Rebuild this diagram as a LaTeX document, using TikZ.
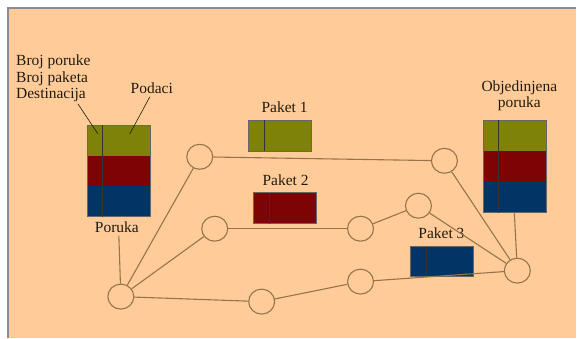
\documentclass[tikz,border=0pt]{standalone}
\usepackage{fontspec}
\setmainfont{Liberation Serif}
\usetikzlibrary{shapes.geometric}
\begin{document}
\begin{tikzpicture}[x=1pt,y=-1pt,
  wire/.style={draw=linebrown,line width=1.1pt},
  router/.style={ellipse,draw=linebrown,line width=1.1pt,fill=peach,minimum width=26pt,minimum height=25pt,inner sep=0pt},
  lbl/.style={font=\fontsize{15.5}{16.5}\selectfont,text=textdark,inner sep=0pt},
  cell/.style={draw=black!60,line width=0.5pt},
  divider/.style={draw=black!80,line width=0.8pt}]
\definecolor{peach}{HTML}{FFCC99}
\definecolor{linebrown}{HTML}{967449}
\definecolor{textdark}{HTML}{231A0E}
\definecolor{olive}{HTML}{7F8208}
\definecolor{maroon}{HTML}{7E0304}
\definecolor{navy}{HTML}{023466}
\definecolor{framegray}{HTML}{8C8C8C}
% page and slide frame
\fill[white] (0,0) rectangle (577,338);
\fill[peach] (8,8) rectangle (577,338);
\draw[framegray,line width=1.5pt] (8,338) -- (8,8) -- (577,8);
\useasboundingbox (0,0) rectangle (577,338);

% source message
\fill[olive]  (87,125) rectangle (150,156);
\fill[maroon] (87,156) rectangle (150,186);
\fill[navy]   (87,186) rectangle (150,217);
\draw[cell] (87,125) rectangle (150,217);
\draw[divider] (103,125) -- (103,217);
\node[lbl,anchor=north west,align=left] (hdr) at (16,55) {Broj poruke\\Broj paketa\\Destinacija};
\node[lbl] (podaci) at (152,88) {Podaci};
\node[lbl] (poruka) at (117,228) {Poruka};
\coordinate (hdrtip) at (98,134);
\coordinate (hdrfrom) at (78,104);
\coordinate (podtip) at (130,134);
\coordinate (podfrom) at (150,97);
\draw[textdark,line width=0.6pt] (hdrfrom) -- (hdrtip);
\draw[textdark,line width=0.6pt] (podfrom) -- (podtip);
\coordinate (srcfoot) at (119,236);

% merged message
\fill[olive]  (484,120) rectangle (547,151);
\fill[maroon] (484,151) rectangle (547,181);
\fill[navy]   (484,181) rectangle (547,213);
\draw[cell] (484,120) rectangle (547,213);
\draw[divider] (499,120) -- (499,213);
\node[lbl,align=center] (obj) at (520,96) {Objedinjena\\poruka};
\coordinate (dstfoot) at (515,213);

% packets
\fill[olive] (249,120) rectangle (312,151);
\draw[cell] (249,120) rectangle (312,151);
\draw[divider] (265,120) -- (265,151);
\node[lbl] (p1) at (285,107) {Paket 1};

\fill[maroon] (254,193) rectangle (317,224);
\draw[cell] (254,193) rectangle (317,224);
\draw[divider] (270,193) -- (270,224);
\node[lbl] (p2) at (286,180) {Paket 2};

\fill[navy] (411,247) rectangle (474,277);
\draw[cell] (411,247) rectangle (474,277);
\draw[divider] (427,247) -- (427,277);
\node[lbl] (p3) at (442,234) {Paket 3};

% routers
\node[router] (A) at (121,297) {};
\node[router] (B) at (200,157) {};
\node[router] (C) at (215,229) {};
\node[router] (D) at (262,302) {};
\node[router] (E) at (361,229) {};
\node[router] (F) at (419,206) {};
\node[router] (G) at (445,161) {};
\node[router] (H) at (361,282) {};
\node[router] (I) at (518,271) {};

% links
\draw[wire] (srcfoot) -- (A);
\draw[wire] (A) -- (B);
\draw[wire] (A) -- (C);
\draw[wire] (A) -- (D);
\draw[wire] (B) -- (G);
\draw[wire] (C) -- (E);
\draw[wire] (E) -- (F);
\draw[wire] (F) -- (I);
\draw[wire] (G) -- (I);
\draw[wire] (D) -- (H);
\draw[wire] (H) -- (I);
\draw[wire] (dstfoot) -- (I);
\end{tikzpicture}
\end{document}
